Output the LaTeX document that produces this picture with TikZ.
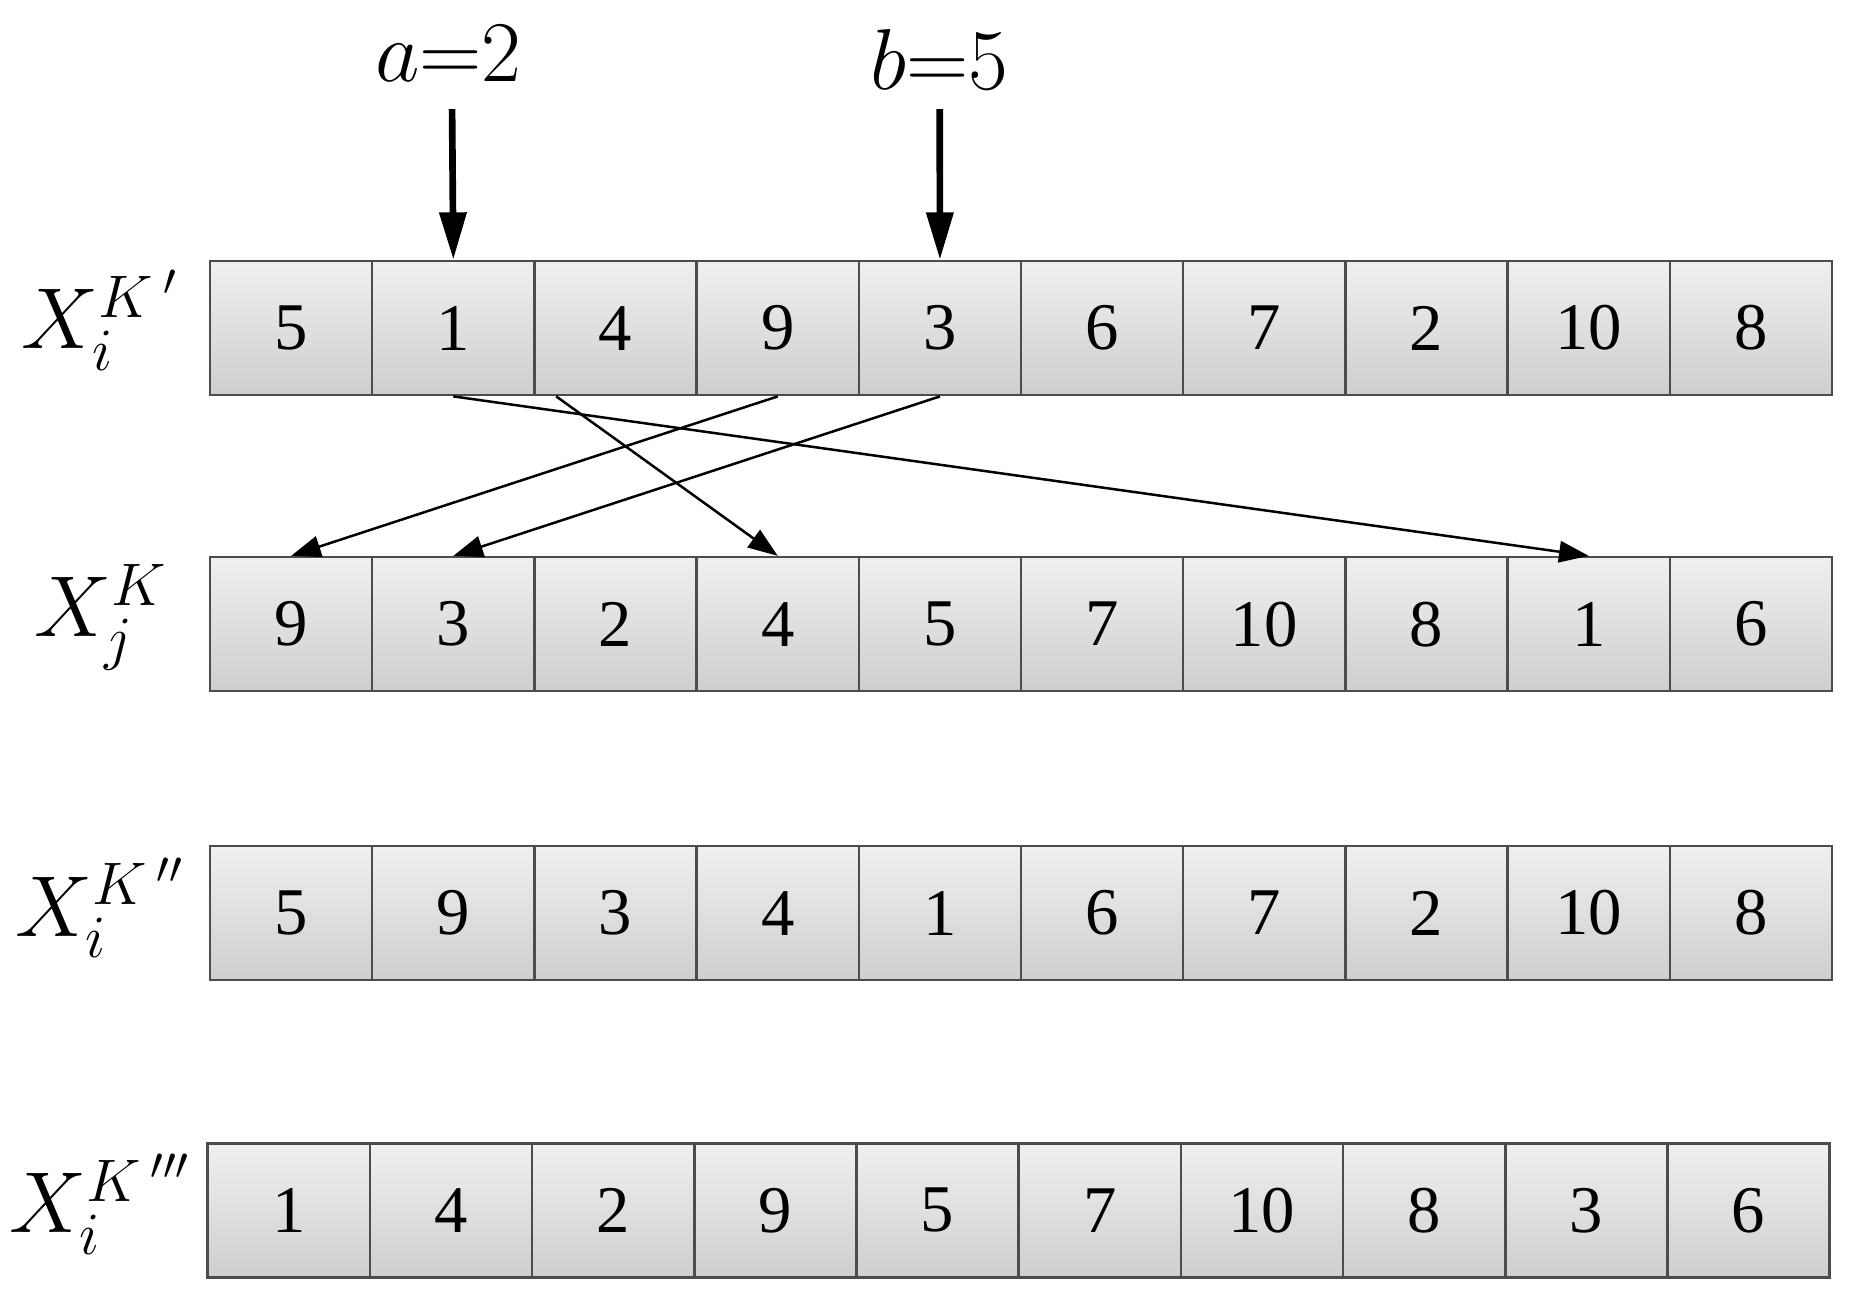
\documentclass[tikz,border=0pt]{standalone}
\usepackage{fontspec}
\setmainfont{Liberation Serif}
\usetikzlibrary{arrows.meta}
\tikzset{
  cell/.style={draw=black!70, line width=0.6pt, minimum width=1.367cm, minimum height=1.13cm,
    inner sep=0pt, top color=gray!12, bottom color=gray!38, font=\fontsize{16}{16}\selectfont},
  lab/.style={font=\fontsize{22}{22}\selectfont},
  move/.style={-{Triangle[length=0.25cm,width=0.18cm]}, line width=0.6pt}
}
\begin{document}
\begin{tikzpicture}
\useasboundingbox (0,0) rectangle (15.6,-10.93);
% rows of cells
\foreach \v [count=\k] in {5,1,4,9,3,6,7,2,10,8}
  \node[cell] (p\k) at (1.77+1.367*\k-0.6835, -2.765) {\v};
\foreach \v [count=\k] in {9,3,2,4,5,7,10,8,1,6}
  \node[cell] (q\k) at (1.77+1.367*\k-0.6835, -5.26) {\v};
\foreach \v [count=\k] in {5,9,3,4,1,6,7,2,10,8}
  \node[cell] (r\k) at (1.77+1.367*\k-0.6835, -7.695) {\v};
\foreach \v [count=\k] in {1,4,2,9,5,7,10,8,3,6}
  \node[cell] (s\k) at (1.75+1.367*\k-0.6835, -10.2) {\v};
% row labels
\node[lab] (lp) at (0.85,-2.7) {$X_i^{K\,'}$};
\node[lab] (lq) at (0.85,-5.2) {$X_j^{K}$};
\node[lab] (lr) at (0.85,-7.65) {$X_i^{K\,''}$};
\node[lab] (ls) at (0.85,-10.15) {$X_i^{K\,'''}$};
% cut points
\node[lab] (a) at (3.78,-0.45) {$a{=}2$};
\node[lab] (b) at (7.92,-0.5) {$b{=}5$};
\coordinate (at) at (3.81,-0.92);
\coordinate (bt) at (7.92,-0.92);
\draw[-{Triangle[length=0.4cm,width=0.22cm]}, line width=1.6pt] (at) -- (p2.north);
\draw[-{Triangle[length=0.4cm,width=0.22cm]}, line width=1.6pt] (bt) -- (p5.north);
% moved genes
\draw[move] (p2.south) -- ([xshift=0cm]q9.north);
\draw[move] ([xshift=-0.5cm]p3.south) -- (q4.north);
\draw[move] (p4.south) -- (q1.north);
\draw[move] (p5.south) -- (q2.north);
\end{tikzpicture}
\end{document}
